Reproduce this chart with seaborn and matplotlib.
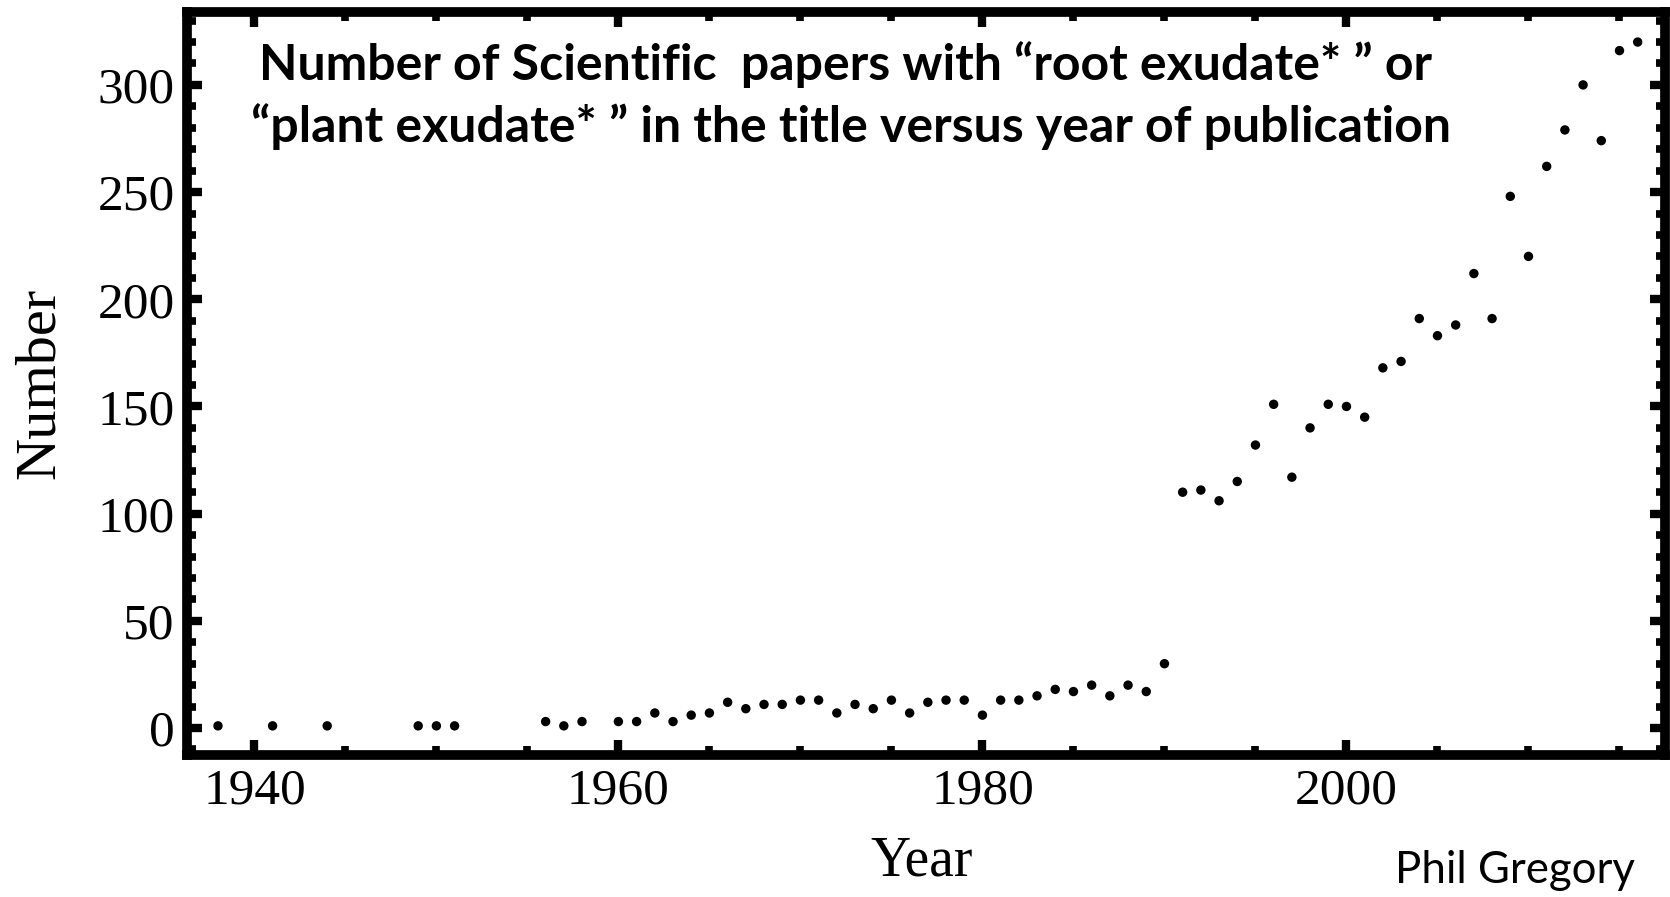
import matplotlib
matplotlib.use("Agg")
import matplotlib.pyplot as plt
from matplotlib.ticker import MultipleLocator
import numpy as np
import pandas as pd
import seaborn as sns

# --- Data ---
years = [1938, 1941, 1944, 1949, 1950, 1951,
         1956, 1957, 1958, 1960, 1961, 1962, 1963, 1964, 1965, 1966, 1967,
         1968, 1969, 1970, 1971, 1972, 1973, 1974, 1975, 1976, 1977, 1978,
         1979, 1980, 1981, 1982, 1983, 1984, 1985, 1986, 1987, 1988, 1989,
         1990, 1991, 1992, 1993, 1994, 1995, 1996, 1997, 1998, 1999, 2000,
         2001, 2002, 2003, 2004, 2005, 2006, 2007, 2008, 2009, 2010, 2011,
         2012, 2013, 2014, 2015, 2016]
papers = [1, 1, 1, 1, 1, 1,
          3, 1, 3, 3, 3, 7, 3, 6, 7, 12, 9,
          11, 11, 13, 13, 7, 11, 9, 13, 7, 12, 13,
          13, 6, 13, 13, 15, 18, 17, 20, 15, 20, 17,
          30, 110, 111, 106, 115, 132, 151, 117, 140, 151, 150,
          145, 168, 171, 191, 183, 188, 212, 191, 248, 220, 262,
          279, 300, 274, 316, 320]

x_ticks = [1940, 1960, 1980, 2000]
y_ticks = [0, 50, 100, 150, 200, 250, 300]

title_lines = ["Number of Scientific  papers with \u201croot exudate* \u201d or",
               "\u201cplant exudate* \u201d in the title versus year of publication"]

# --- Styling ---
sns.set_theme(style="ticks")
plt.rcParams['font.family'] = ['Liberation Serif', 'DejaVu Serif']
plt.rcParams['text.color'] = 'black'
plt.rcParams['axes.labelcolor'] = 'black'
plt.rcParams['xtick.color'] = 'black'
plt.rcParams['ytick.color'] = 'black'

df = pd.DataFrame({'year': years, 'papers': papers})

fig = plt.figure(figsize=(16.7, 8.97), dpi=100)
ax = fig.add_axes([0.112, 0.1583, 0.885, 0.8283])

sns.scatterplot(data=df, x='year', y='papers', ax=ax, color='black',
                s=46, marker='o', edgecolor='none', linewidth=0)

ax.set_xlim(1936.3, 2017.5)
ax.set_ylim(-12.6, 334)
ax.set_xticks(x_ticks)
ax.set_yticks(y_ticks)
ax.xaxis.set_minor_locator(MultipleLocator(5))
ax.yaxis.set_minor_locator(MultipleLocator(10))

for side in ['left', 'right', 'top', 'bottom']:
    ax.spines[side].set_visible(True)
    ax.spines[side].set_linewidth(7)
    ax.spines[side].set_color('black')

ax.tick_params(which='both', direction='in', top=True, right=True,
               color='black', labelcolor='black')
ax.tick_params(which='major', length=11, width=6, labelsize=37, pad=9)
ax.tick_params(which='minor', length=6.5, width=5.5)

ax.set_xlabel('Year', fontsize=40)
ax.set_ylabel('Number', fontsize=42)
ax.xaxis.set_label_coords(0.497, -0.108)
ax.yaxis.set_label_coords(-0.082, 0.5)

ax.text(0.4455, 0.9085, title_lines[0], transform=ax.transAxes,
        ha='center', va='baseline', fontsize=36, fontweight='bold',
        color='black', family=['Lato', 'DejaVu Sans'])
ax.text(0.4493, 0.825, title_lines[1], transform=ax.transAxes,
        ha='center', va='baseline', fontsize=36, fontweight='bold',
        color='black', family=['Lato', 'DejaVu Sans'])

fig.text(0.979, 0.0156, 'Phil Gregory', ha='right', va='baseline',
         fontsize=31.5, color='black', family=['Lato', 'DejaVu Sans'])

fig.savefig('out.png', dpi=100)
